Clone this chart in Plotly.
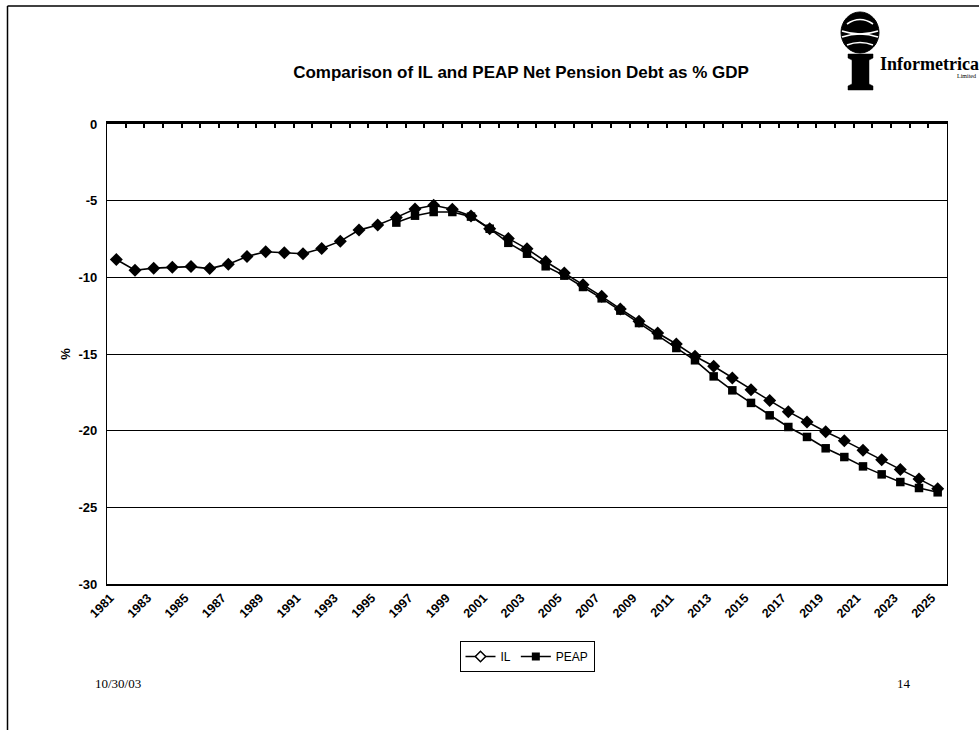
import plotly.graph_objects as go

# ---- data -------------------------------------------------------------
years = list(range(1981, 2026))

il_debt = [
    -8.84, -9.54, -9.40, -9.34, -9.30, -9.43, -9.14, -8.64, -8.33, -8.40,
    -8.46, -8.12, -7.64, -6.92, -6.59, -6.09, -5.54, -5.30, -5.56, -6.00,
    -6.83, -7.46, -8.14, -8.97, -9.72, -10.48, -11.24, -12.06, -12.87, -13.63,
    -14.35, -15.15, -15.80, -16.56, -17.33, -18.04, -18.76, -19.43, -20.07, -20.65,
    -21.28, -21.89, -22.54, -23.15, -23.78,
]

peap_debt = [None] * 15 + [
    -6.43, -5.98, -5.74, -5.74, -6.04,
    -6.83, -7.75, -8.46, -9.28, -9.89, -10.63, -11.37, -12.17, -12.98, -13.78,
    -14.61, -15.41, -16.46, -17.37, -18.19, -19.00, -19.76, -20.41, -21.15, -21.72,
    -22.33, -22.85, -23.35, -23.74, -24.02,
]

x_tick_years = years[::2]
x_tick_labels = [str(y) for y in x_tick_years]
y_tick_values = [0, -5, -10, -15, -20, -25, -30]
y_tick_labels = ["0", "-5", "-10", "-15", "-20", "-25", "-30"]

title_text = "Comparison of IL and PEAP Net Pension Debt as % GDP"
date_text = "10/30/03"
page_text = "14"

# ---- page geometry ------------------------------------------------------
W, H = 979, 730
L, R, T, B = 107, 32, 124, 146
PW, PH = W - L - R, H - T - B


def px(x):
    """pixel column -> paper x"""
    return (x - L) / PW


def py(y):
    """pixel row -> paper y"""
    return (H - B - y) / PH


SANS = "Arial, 'Liberation Sans', sans-serif"
SERIF = "'Times New Roman', 'Liberation Serif', serif"

fig = go.Figure()

fig.add_trace(go.Scatter(
    x=years, y=il_debt, name="IL", mode="lines+markers",
    line=dict(color="black", width=1.6),
    marker=dict(symbol="diamond", size=10, color="black"),
    showlegend=False,
))
fig.add_trace(go.Scatter(
    x=years, y=peap_debt, name="PEAP", mode="lines+markers",
    line=dict(color="black", width=1.6),
    marker=dict(symbol="square", size=8.5, color="black"),
    showlegend=False,
))

# legend keys (open diamond for IL, solid square for PEAP)
fig.add_trace(go.Scatter(
    x=[None], y=[None], name="IL", mode="lines+markers", xaxis="x2",
    line=dict(color="black", width=1.5),
    marker=dict(symbol="diamond", size=8, color="white",
                line=dict(color="black", width=1.5)),
))
fig.add_trace(go.Scatter(
    x=[None], y=[None], name="PEAP", mode="lines+markers", xaxis="x2",
    line=dict(color="black", width=1.5),
    marker=dict(symbol="square", size=8, color="black"),
))

x_range = [years[0] - 0.5, years[-1] + 0.5]
boundaries = [y - 0.5 for y in years] + [years[-1] + 0.5]

fig.update_layout(
    width=W, height=H,
    margin=dict(l=L, r=R, t=T, b=B),
    paper_bgcolor="white", plot_bgcolor="white",
    title=dict(text=title_text, x=521 / W, xanchor="center",
               y=1 - 72 / H, yanchor="middle",
               font=dict(family=SANS, size=17, color="black", weight="bold")),
    xaxis=dict(
        range=x_range, tickmode="array", tickvals=x_tick_years,
        ticktext=x_tick_labels, tickangle=-45, ticklabelshift=-6,
        tickfont=dict(family=SANS, size=12.5, color="black", weight="bold"),
        showline=True, linecolor="black", linewidth=1.5,
        showgrid=False, zeroline=False, ticks="",
    ),
    xaxis2=dict(
        overlaying="x", side="top", anchor="y", range=x_range,
        tickmode="array", tickvals=boundaries, showticklabels=False,
        showline=True, linecolor="black", linewidth=3,
        ticks="inside", ticklen=4, tickwidth=2, tickcolor="black",
        showgrid=False, zeroline=False,
    ),
    yaxis=dict(
        range=[-30, 0], tickmode="array", tickvals=y_tick_values,
        ticktext=y_tick_labels,
        tickfont=dict(family=SANS, size=13, color="black", weight="bold"),
        ticklabelstandoff=6,
        showgrid=True, gridcolor="black", gridwidth=1.2,
        showline=True, mirror=True, linecolor="black", linewidth=1.2,
        zeroline=False, ticks="",
        title=dict(text="%", standoff=4,
                   font=dict(family=SANS, size=13, color="black", weight="bold")),
    ),
    legend=dict(
        orientation="h", x=px(527), xanchor="center", y=py(641), yanchor="top",
        bordercolor="black", borderwidth=1, bgcolor="white",
        font=dict(family=SANS, size=12, color="black"),
        itemwidth=30, tracegroupgap=0,
    ),
    showlegend=True,
)

# page frame
fig.add_shape(type="line", xref="paper", yref="paper",
              x0=px(7.5), y0=py(6), x1=px(7.5), y1=py(H),
              line=dict(color="black", width=1.5))
fig.add_shape(type="line", xref="paper", yref="paper",
              x0=px(7.5), y0=py(6), x1=px(W), y1=py(6),
              line=dict(color="black", width=1.5))

# company logo: globe on an "i" stem
fig.add_shape(type="circle", xref="paper", yref="paper",
              x0=px(841), x1=px(879), y0=py(53), y1=py(12),
              fillcolor="black", line=dict(color="black", width=1))
for (xa, ya), (xc, yc), (xb, yb) in [
    ((847, 24), (860, 15), (873, 24)),
    ((842, 31), (860, 37), (878, 31)),
    ((842, 37), (860, 31), (878, 37)),
    ((847, 45), (860, 40), (873, 45)),
]:
    fig.add_shape(type="path", xref="paper", yref="paper",
                  path=f"M {px(xa)},{py(ya)} Q {px(xc)},{py(yc)} {px(xb)},{py(yb)}",
                  line=dict(color="white", width=1.6))
stem = [(848, 54), (873, 54), (873, 58), (869, 60), (869, 84), (873, 86),
        (873, 90), (848, 90), (848, 86), (852, 84), (852, 60), (848, 58)]
fig.add_shape(type="path", xref="paper", yref="paper",
              path="M " + " L ".join(f"{px(a)},{py(b)}" for a, b in stem) + " Z",
              fillcolor="black", line=dict(color="black", width=0.5))

fig.add_annotation(text="Informetrica", xref="paper", yref="paper",
                   x=px(878), y=py(64), xanchor="left", yanchor="middle",
                   showarrow=False,
                   font=dict(family=SERIF, size=18, color="black", weight="bold"))
fig.add_annotation(text="Limited", xref="paper", yref="paper",
                   x=px(978), y=py(76), xanchor="right", yanchor="middle",
                   showarrow=False,
                   font=dict(family=SERIF, size=6, color="black"))

# footer
fig.add_annotation(text=date_text, xref="paper", yref="paper",
                   x=px(93), y=py(683), xanchor="left", yanchor="middle",
                   showarrow=False,
                   font=dict(family=SERIF, size=13, color="black"))
fig.add_annotation(text=page_text, xref="paper", yref="paper",
                   x=px(895), y=py(683), xanchor="left", yanchor="middle",
                   showarrow=False,
                   font=dict(family=SERIF, size=13, color="black"))

fig.write_html("out.html")
